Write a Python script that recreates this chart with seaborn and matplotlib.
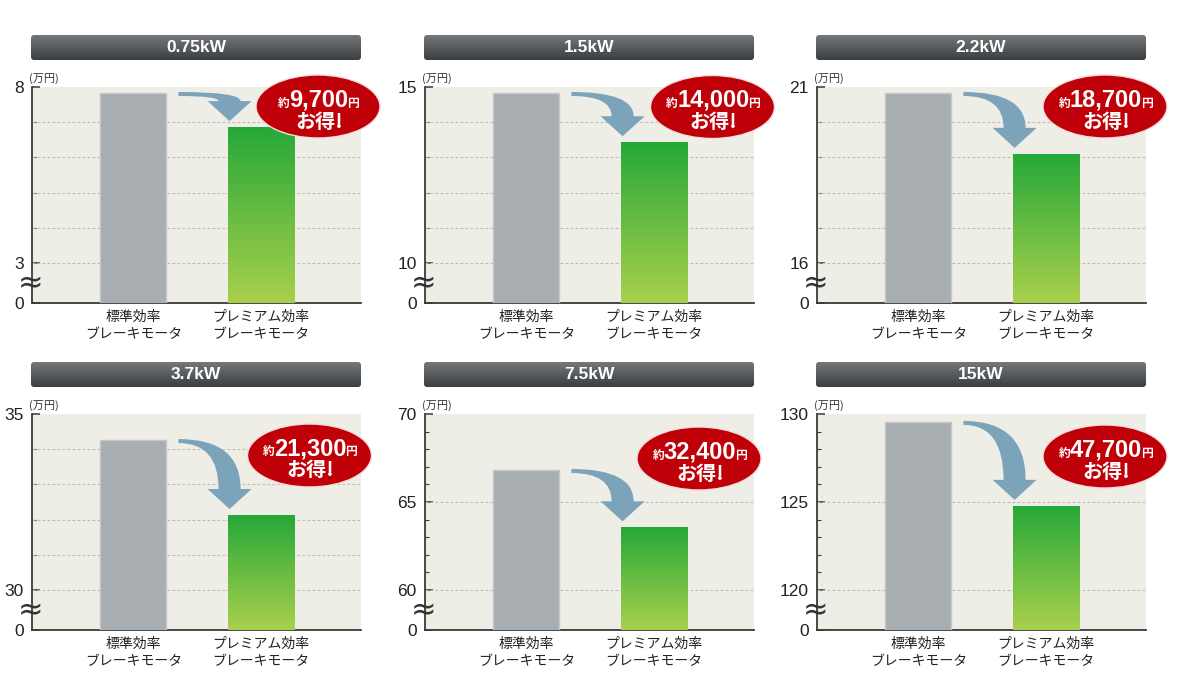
import numpy as np
import pandas as pd
import matplotlib
matplotlib.use("Agg")
import matplotlib.pyplot as plt
import seaborn as sns
from matplotlib.patches import Ellipse, FancyBboxPatch, PathPatch
from matplotlib.path import Path
from matplotlib.colors import LinearSegmentedColormap
from matplotlib import font_manager

# ---------------- data ----------------
titles = ["0.75kW", "1.5kW", "2.2kW", "3.7kW", "7.5kW", "15kW"]
categories = ["標準効率\nブレーキモータ", "プレミアム効率\nブレーキモータ"]
standard = [7.83, 14.83, 20.83, 34.26, 66.82, 129.55]
premium = [6.86, 13.43, 19.10, 32.13, 63.56, 124.78]
axis_low = [3, 10, 16, 30, 60, 120]
axis_high = [8, 15, 21, 35, 70, 130]
grid_step = [1, 1, 1, 1, 5, 5]
label_step = [5, 5, 5, 5, 5, 5]
savings = ["9,700", "14,000", "18,700", "21,300", "32,400", "47,700"]
unit_label = "(万円)"

# ---------------- layout (pixels) ----------------
W, H = 1200, 700
col_left = [32, 425, 817]
row_top = [87, 414]
ax_w, ax_h = 329, 216
ell_off = [(286, 19.5), (287.5, 20), (288, 19.5), (277.5, 41.5), (274, 44.5), (288, 42.5)]

sns.set_theme(style="white")
names = {f.name for f in font_manager.fontManager.ttflist}
narrow = "Liberation Sans Narrow" if "Liberation Sans Narrow" in names else "Liberation Sans"
JP = ["Noto Sans CJK JP", "DejaVu Sans"]
NUM = ["Liberation Sans", "DejaVu Sans"]
plt.rcParams["font.family"] = JP

fig = plt.figure(figsize=(12, 7), dpi=100)
fig.patch.set_facecolor("white")

green_cmap = LinearSegmentedColormap.from_list("g", ["#a9d04c", "#26a839"])
title_cmap = LinearSegmentedColormap.from_list("t", ["#3b3e41", "#75787b"])


def fx(px):
    return px / W


def fy(py):
    return 1 - py / H


renderer = fig.canvas.get_renderer()

for i in range(6):
    left = col_left[i % 3]
    top = row_top[i // 3]
    lo, hi = axis_low[i], axis_high[i]
    gap = (hi - lo) * 40 / 176

    ax = fig.add_axes([fx(left), fy(top + ax_h), ax_w / W, ax_h / H])
    df = pd.DataFrame({"cat": categories, "val": [standard[i], premium[i]]})
    sns.barplot(data=df, x="cat", y="val", hue="cat",
                palette=["#a6adb4", "#2aa93a"], width=0.52, legend=False,
                ax=ax, zorder=3, edgecolor="#c2c7cb", linewidth=1)
    gray_bar, green_bar = ax.patches[0], ax.patches[1]
    green_bar.set_edgecolor("none")

    # gradient on the green bar
    gx0 = green_bar.get_x()
    gw = green_bar.get_width()
    grad = np.linspace(0, 1, 256).reshape(-1, 1)
    im = ax.imshow(grad, cmap=green_cmap, origin="lower", aspect="auto",
                   extent=[gx0, gx0 + gw, lo - gap, premium[i]], zorder=3.5)
    im.set_clip_path(green_bar)

    ax.set_xlim(-0.795, 1.787)
    ax.set_ylim(lo - gap, hi)
    ax.set_facecolor("#eeede6")
    for s in ["top", "right"]:
        ax.spines[s].set_visible(False)
    for s in ["left", "bottom"]:
        ax.spines[s].set_color("#3a3a3a")
        ax.spines[s].set_linewidth(1.3)

    for g in np.arange(lo, hi, grid_step[i]):
        ax.axhline(g, color="#bcbcb6", ls=(0, (2.5, 2)), lw=0.8, zorder=1)

    labelled = list(np.arange(lo, hi + 1, label_step[i]))
    ax.set_yticks([lo - gap] + labelled)
    ax.set_yticklabels(["0"] + [str(int(v)) for v in labelled],
                       family=NUM, fontsize=12.5, color="#222222")
    ax.set_yticks([v for v in np.arange(lo + 1, hi) if v not in labelled], minor=True)
    ax.tick_params(axis="y", which="major", direction="in", length=6, width=1.1,
                   color="#3a3a3a", pad=6, left=True)
    ax.tick_params(axis="y", which="minor", direction="in", length=3, width=0.8,
                   color="#3a3a3a", left=True)
    ax.tick_params(axis="x", length=0, pad=5, labelsize=10, labelcolor="#222222")
    for lab in ax.get_xticklabels():
        lab.set_linespacing(1.3)
    ax.set_xlabel("")
    ax.set_ylabel("")

    # break mark and unit
    fig.text(fx(left - 1), fy(top + ax_h - 19), "≈", ha="center", va="center",
             fontsize=22, color="#333333", family=["DejaVu Sans"])
    fig.text(fx(left - 3), fy(top - 5), unit_label, ha="left", va="baseline",
             fontsize=8, color="#333333")

    # curved arrow
    trans = ax.transData
    sx, sy = trans.transform((gray_bar.get_x() + gray_bar.get_width(), standard[i]))
    tx, ty = trans.transform((green_bar.get_x(), premium[i]))
    S = (sx + 12, sy + 1)
    T = (tx + 2, ty + 6)
    hb = T[1] + 20
    verts = [S, (T[0] + 11, S[1]), (T[0] + 11, hb), (T[0] + 22, hb), T,
             (T[0] - 22, hb), (T[0] - 11, hb), (T[0] - 11, S[1] - 4),
             (S[0], S[1] - 4), S]
    codes = [Path.MOVETO, Path.CURVE3, Path.CURVE3, Path.LINETO, Path.LINETO,
             Path.LINETO, Path.LINETO, Path.CURVE3, Path.CURVE3, Path.CLOSEPOLY]
    dverts = trans.inverted().transform(verts)
    ax.add_patch(PathPatch(Path(dverts, codes), facecolor="#7ba4ba",
                           edgecolor="none", zorder=4, clip_on=False))

    # title bar
    tb = fig.add_axes([fx(left - 1), fy(top - 27), 330 / W, 25 / H])
    tb.set_xlim(0, 330)
    tb.set_ylim(0, 25)
    tb.axis("off")
    tim = tb.imshow(np.linspace(0, 1, 64).reshape(-1, 1), cmap=title_cmap,
                    origin="lower", aspect="auto", extent=[0, 330, 0, 25])
    box = FancyBboxPatch((0, 0), 330, 25, boxstyle="round,pad=0,rounding_size=3",
                         facecolor="none", edgecolor="none", transform=tb.transData)
    tb.add_patch(box)
    tim.set_clip_path(box)
    tb.text(165, 12.5, titles[i], ha="center", va="center", color="white",
            fontsize=12.5, weight="bold", family=NUM)

    # savings ellipse
    cx = left + ell_off[i][0]
    cy = top + ell_off[i][1]
    fig.add_artist(Ellipse((fx(cx), fy(cy)), 124 / W, 63 / H, transform=fig.transFigure,
                           facecolor="#c00008", edgecolor="#f3dede", linewidth=1, zorder=5))
    big = fig.text(fx(cx + 1), fy(cy), savings[i], ha="center", va="baseline",
                   fontsize=17, weight="bold", color="white", family=[narrow, "DejaVu Sans"],
                   zorder=6)
    ext = big.get_window_extent(renderer)
    fig.text((ext.x0 + 0.5) / W, fy(cy), "約", ha="right", va="baseline", fontsize=8.5,
             weight="bold", color="white", zorder=6)
    fig.text((ext.x1 - 1.5) / W, fy(cy), "円", ha="left", va="baseline", fontsize=8.5,
             weight="bold", color="white", zorder=6)
    fig.text(fx(cx + 1), fy(cy + 21), "お得!", ha="center", va="baseline", fontsize=14.5,
             weight="bold", color="white", zorder=6)

fig.savefig("out.png", dpi=100, facecolor="white")
